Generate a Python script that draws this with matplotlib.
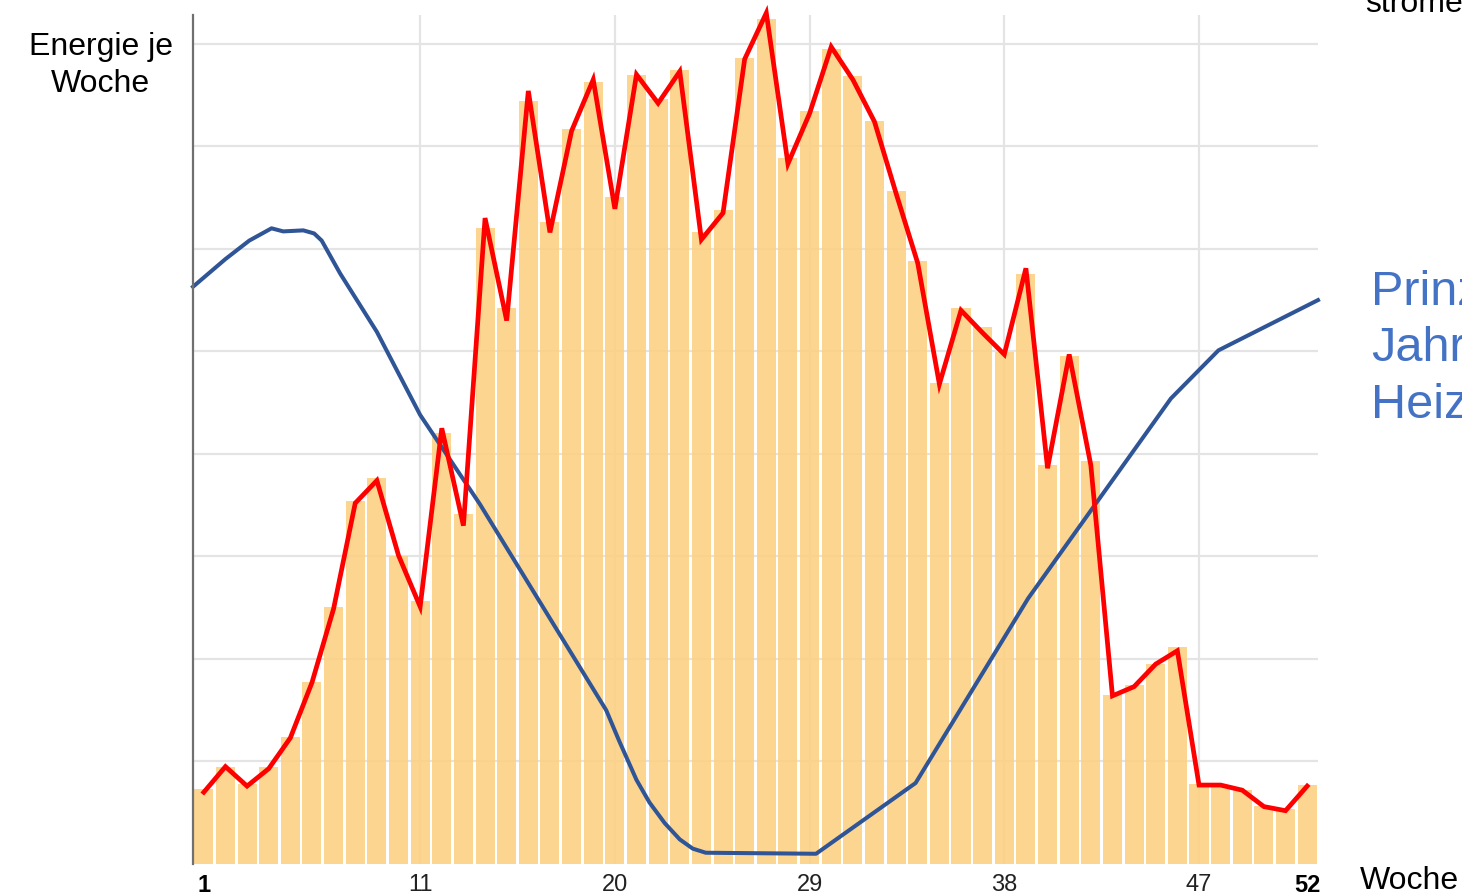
import numpy as np
import matplotlib
matplotlib.use("Agg")
import matplotlib.pyplot as plt

plt.rcParams['font.family'] = ['Liberation Sans', 'DejaVu Sans']

# weekly energy (bars) and hand-drawn red outline, in grid units
weeks = np.arange(1, 53)
bar_vals = [0.73, 0.95, 0.78, 0.95, 1.24, 1.78, 2.51, 3.54, 3.76, 3.00, 2.57, 4.20, 3.41,
            6.20, 5.42, 7.44, 6.26, 7.17, 7.63, 6.51, 7.70, 7.46, 7.74, 6.16, 6.38, 7.86,
            8.24, 6.89, 7.34, 7.95, 7.69, 7.25, 6.56, 5.88, 4.69, 5.42, 5.24, 4.99, 5.75,
            3.89, 4.95, 3.93, 1.65, 1.75, 1.95, 2.12, 0.78, 0.77, 0.72, 0.57, 0.54, 0.77]
red_vals = [0.70, 0.95, 0.76, 0.93, 1.23, 1.77, 2.49, 3.52, 3.74, 3.01, 2.51, 4.25, 3.30,
            6.30, 5.30, 7.54, 6.16, 7.15, 7.65, 6.39, 7.70, 7.42, 7.73, 6.09, 6.35, 7.85,
            8.30, 6.83, 7.32, 7.97, 7.65, 7.24, 6.54, 5.86, 4.68, 5.40, 5.18, 4.97, 5.81,
            3.86, 4.97, 3.89, 1.64, 1.73, 1.95, 2.08, 0.77, 0.77, 0.72, 0.56, 0.52, 0.76]

blue_x = [0.5, 2.0, 3.1, 4.13, 4.67, 5.6, 6.1, 6.45, 7.3, 9.0, 11.0, 13.76, 19.6, 20.2,
          21.0, 21.6, 22.3, 23.0, 23.6, 24.2, 29.3, 33.9, 39.1, 45.7, 47.9, 52.5]
blue_y = [5.63, 5.90, 6.08, 6.20, 6.17, 6.18, 6.15, 6.08, 5.76, 5.19, 4.38, 3.51, 1.50, 1.20,
          0.82, 0.60, 0.40, 0.24, 0.15, 0.11, 0.10, 0.79, 2.59, 4.54, 5.01, 5.50]

tick_weeks = [1, 11, 20, 29, 38, 47, 52]
grid_weeks = [11, 20, 29, 38, 47]

fig = plt.figure(figsize=(14.62, 8.96), dpi=100)
ax = fig.add_axes([0.132, 0.0357, 0.7695, 0.9475])

for gy in range(1, 9):
    ax.axhline(gy, color='#E4E4E4', lw=1.6, zorder=0)
for gx in grid_weeks:
    ax.axvline(gx, color='#E4E4E4', lw=1.6, zorder=0)

ax.bar(weeks, bar_vals, width=0.88, color='#FCD285', alpha=0.9, zorder=1)
ax.plot(weeks, red_vals, color='#FF0000', lw=3.4, solid_joinstyle='miter', zorder=3, clip_on=False)
ax.plot(blue_x, blue_y, color='#2F5597', lw=2.9, zorder=2, clip_on=False)

ax.set_xlim(0.5, 52.5)
ax.set_ylim(0, 8.28)
for s in ['top', 'right', 'bottom']:
    ax.spines[s].set_visible(False)
ax.spines['left'].set_color('#707070')
ax.spines['left'].set_linewidth(1.6)
ax.set_yticks([])
ax.set_xticks(tick_weeks)
ax.set_xticklabels([str(w) for w in tick_weeks], fontsize=17, color='#222222')
ax.tick_params(axis='x', length=0, pad=7)
for lbl in ax.get_xticklabels():
    if lbl.get_text() in ('1', '52'):
        lbl.set_fontweight('bold')
        lbl.set_color('black')

fig.text(0.069, 0.927, "Energie je\nWoche", fontsize=23, ha='center', va='center',
         linespacing=1.3)
fig.text(0.930, 0.017, "Woche", fontsize=23, ha='left', va='center')
fig.text(0.934, 0.987, "ströme", fontsize=23, ha='left', va='baseline')
fig.text(0.938, 0.6105, "Prinz\nJahr\nHeiz", fontsize=35, ha='left', va='center',
         color='#4472C4', linespacing=1.33)

fig.savefig("out.png", dpi=100)
